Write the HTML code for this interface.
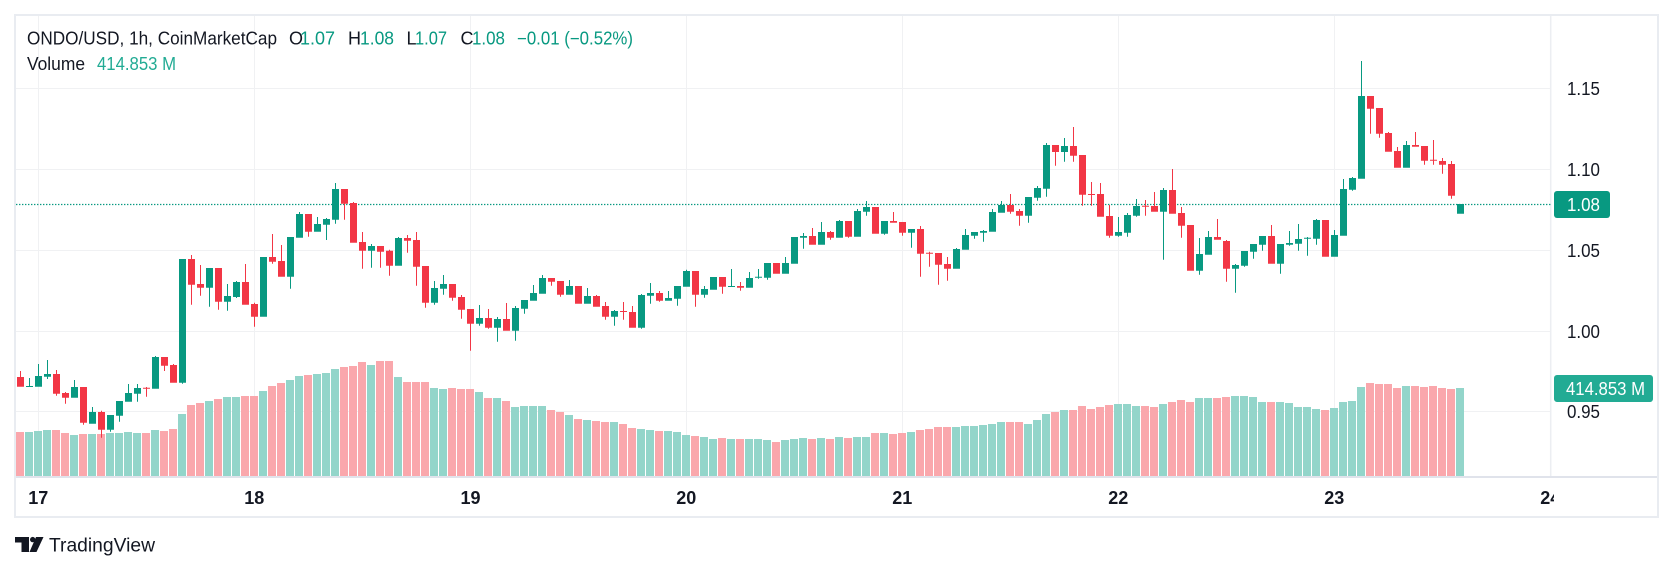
<!DOCTYPE html>
<html><head><meta charset="utf-8"><style>
html,body{margin:0;padding:0;background:#fff;}
svg{display:block;}
text{font-family:"Liberation Sans",Arial,sans-serif;}
</style></head><body>
<svg width="1674" height="571" viewBox="0 0 1674 571" xmlns="http://www.w3.org/2000/svg">
<defs><clipPath id="tc"><rect x="0" y="478" width="1554" height="38"/></clipPath></defs>
<rect width="1674" height="571" fill="#fff"/>
<!-- grid -->
<g stroke="#f0f1f3" stroke-width="1">
<path d="M16 88.5H1551M16 169.5H1551M16 250.5H1551M16 331.5H1551M16 411.5H1551"/>
<path d="M38.5 16V476M254.5 16V476M470.5 16V476M686.5 16V476M902.5 16V476M1118.5 16V476M1334.5 16V476"/>
</g>
<line x1="1550.7" y1="16" x2="1550.7" y2="476" stroke="#eceef2" stroke-width="1.5"/>
<rect x="16" y="476" width="1642" height="2" fill="#e0e3eb"/>
<rect x="15" y="15" width="1643" height="502" fill="none" stroke="#e9ecf1" stroke-width="2"/>
<!-- volume -->
<path fill="#93d5ca" d="M25 432h8V476h-8zM34 431h8V476h-8zM43 430h8V476h-8zM70 435h8V476h-8zM88 434h8V476h-8zM106 433h8V476h-8zM115 433h8V476h-8zM124 432h8V476h-8zM133 433h8V476h-8zM151 430h8V476h-8zM178 414h8V476h-8zM205 401h8V476h-8zM223 397h8V476h-8zM232 397h8V476h-8zM259 391h8V476h-8zM286 380h8V476h-8zM295 376h8V476h-8zM313 374h8V476h-8zM322 373h8V476h-8zM331 369h8V476h-8zM367 365h8V476h-8zM394 377h8V476h-8zM430 388h8V476h-8zM439 389h8V476h-8zM475 392h8V476h-8zM493 398h8V476h-8zM511 407h8V476h-8zM520 406h8V476h-8zM529 406h8V476h-8zM538 406h8V476h-8zM565 415h8V476h-8zM583 420h8V476h-8zM610 422h8V476h-8zM637 429h8V476h-8zM646 430h8V476h-8zM664 431h8V476h-8zM673 432h8V476h-8zM682 435h8V476h-8zM700 437h8V476h-8zM709 439h8V476h-8zM727 439h8V476h-8zM745 439h8V476h-8zM754 439h8V476h-8zM763 440h8V476h-8zM781 440h8V476h-8zM790 439h8V476h-8zM799 438h8V476h-8zM817 438h8V476h-8zM835 437h8V476h-8zM853 437h8V476h-8zM862 437h8V476h-8zM880 433h8V476h-8zM907 432h8V476h-8zM952 427h8V476h-8zM961 426h8V476h-8zM970 426h8V476h-8zM979 425h8V476h-8zM988 424h8V476h-8zM997 422h8V476h-8zM1024 424h8V476h-8zM1033 420h8V476h-8zM1042 414h8V476h-8zM1060 410h8V476h-8zM1114 404h8V476h-8zM1123 404h8V476h-8zM1132 406h8V476h-8zM1159 404h8V476h-8zM1195 398h8V476h-8zM1204 398h8V476h-8zM1231 396h8V476h-8zM1240 396h8V476h-8zM1249 397h8V476h-8zM1258 402h8V476h-8zM1276 402h8V476h-8zM1285 403h8V476h-8zM1294 407h8V476h-8zM1303 407h8V476h-8zM1312 409h8V476h-8zM1330 408h8V476h-8zM1339 402h8V476h-8zM1348 401h8V476h-8zM1357 387h8V476h-8zM1402 386h8V476h-8zM1456 388h8V476h-8z"/>
<path fill="#faa7ac" d="M16 432h8V476h-8zM52 430h8V476h-8zM61 433h8V476h-8zM79 434h8V476h-8zM97 434h8V476h-8zM142 433h8V476h-8zM160 431h8V476h-8zM169 429h8V476h-8zM187 405h8V476h-8zM196 403h8V476h-8zM214 399h8V476h-8zM241 396h8V476h-8zM250 396h8V476h-8zM268 386h8V476h-8zM277 383h8V476h-8zM304 375h8V476h-8zM340 367h8V476h-8zM349 366h8V476h-8zM358 362h8V476h-8zM376 361h8V476h-8zM385 361h8V476h-8zM403 382h8V476h-8zM412 382h8V476h-8zM421 382h8V476h-8zM448 388h8V476h-8zM457 389h8V476h-8zM466 389h8V476h-8zM484 398h8V476h-8zM502 401h8V476h-8zM547 410h8V476h-8zM556 412h8V476h-8zM574 419h8V476h-8zM592 421h8V476h-8zM601 422h8V476h-8zM619 424h8V476h-8zM628 428h8V476h-8zM655 431h8V476h-8zM691 436h8V476h-8zM718 438h8V476h-8zM736 439h8V476h-8zM772 442h8V476h-8zM808 439h8V476h-8zM826 439h8V476h-8zM844 438h8V476h-8zM871 433h8V476h-8zM889 434h8V476h-8zM898 433h8V476h-8zM916 430h8V476h-8zM925 429h8V476h-8zM934 427h8V476h-8zM943 427h8V476h-8zM1006 422h8V476h-8zM1015 422h8V476h-8zM1051 412h8V476h-8zM1069 410h8V476h-8zM1078 406h8V476h-8zM1087 409h8V476h-8zM1096 407h8V476h-8zM1105 405h8V476h-8zM1141 406h8V476h-8zM1150 407h8V476h-8zM1168 402h8V476h-8zM1177 400h8V476h-8zM1186 402h8V476h-8zM1213 398h8V476h-8zM1222 397h8V476h-8zM1267 402h8V476h-8zM1321 410h8V476h-8zM1366 383h8V476h-8zM1375 384h8V476h-8zM1384 384h8V476h-8zM1393 388h8V476h-8zM1411 386h8V476h-8zM1420 387h8V476h-8zM1429 386h8V476h-8zM1438 388h8V476h-8zM1447 389h8V476h-8z"/>
<!-- current price line -->
<line x1="16" y1="204.5" x2="1551" y2="204.5" stroke="#089981" stroke-width="1.2" stroke-dasharray="1.4 1.6"/>
<!-- candles green -->
<path fill="#089981" d="M29 378h1v9h-1zM26 386h7v1h-7zM38 364h1v22.7h-1zM35 376h7v10.7h-7zM47 360h1v19h-1zM44 374h7v2.7h-7zM74 380h1v17.7h-1zM71 387h7v10.7h-7zM92 407h1v16.7h-1zM89 412h7v11.7h-7zM110 415h1v16.7h-1zM107 415h7v14.7h-7zM119 401h1v20.7h-1zM116 401h7v14.7h-7zM128 384h1v17.7h-1zM125 393h7v8.7h-7zM137 384h1v17.7h-1zM134 388h7v5.7h-7zM155 356h1v32.7h-1zM152 357h7v31.7h-7zM182 259h1v124.7h-1zM179 259h7v123.7h-7zM209 268h1v38.7h-1zM206 268h7v19.7h-7zM227 284h1v26.7h-1zM224 296h7v5.7h-7zM236 281h1v17h-1zM233 282h7v15h-7zM263 257h1v59.7h-1zM260 257h7v59.7h-7zM290 237h1v51.7h-1zM287 237h7v39.7h-7zM299 212h1v25.7h-1zM296 214h7v23.7h-7zM317 217h1v14.7h-1zM314 224h7v7.7h-7zM326 218h1v22h-1zM323 219h7v5.7h-7zM335 183h1v40.7h-1zM332 189h7v30.7h-7zM371 244h1v23.7h-1zM368 246h7v4.7h-7zM398 237h1v28.7h-1zM395 238h7v27.7h-7zM434 281h1v23.7h-1zM431 288h7v14.7h-7zM443 275h1v19.7h-1zM440 284h7v4.7h-7zM479 305h1v20.7h-1zM476 318h7v5.7h-7zM497 317h1v24.7h-1zM494 319h7v8.7h-7zM515 306h1v34.7h-1zM512 308h7v22.7h-7zM524 300h1v13.7h-1zM521 300h7v8.7h-7zM533 285h1v15.7h-1zM530 293h7v7.7h-7zM542 275h1v18.7h-1zM539 278h7v15.7h-7zM569 280h1v14.7h-1zM566 286h7v8.7h-7zM587 288h1v15.7h-1zM584 296h7v7.7h-7zM614 310h1v15.7h-1zM611 311h7v5.7h-7zM641 294h1v34.7h-1zM638 295h7v32.7h-7zM650 283h1v20.7h-1zM647 293h7v2.7h-7zM668 291h1v9.7h-1zM665 298h7v2.7h-7zM677 286h1v19.7h-1zM674 286h7v12.7h-7zM686 269.7h1v17h-1zM683 271h7v15.7h-7zM704 286h1v11.7h-1zM701 289h7v5.7h-7zM713 277h1v12.7h-1zM710 277h7v12.7h-7zM731 269h1v17.7h-1zM728 286h7v1h-7zM749 272h1v15.7h-1zM746 278h7v9.7h-7zM758 269h1v9.7h-1zM755 276.7h7v1h-7zM767 263h1v16.7h-1zM764 263h7v14.7h-7zM785 257h1v16.7h-1zM782 263h7v10.7h-7zM794 237h1v26.7h-1zM791 237h7v26.7h-7zM803 233h1v15.7h-1zM800 236h7v1.7h-7zM821 222h1v22.7h-1zM818 232h7v12.7h-7zM839 220h1v17.7h-1zM836 221h7v16.7h-7zM857 209h1v27.7h-1zM854 211h7v25.7h-7zM866 201h1v14.7h-1zM863 207h7v4.7h-7zM884 221h1v13.7h-1zM881 221h7v12.7h-7zM911 229h1v18.7h-1zM908 229h7v3.7h-7zM956 248h1v20.7h-1zM953 249h7v19.7h-7zM965 229h1v20.7h-1zM962 235h7v14.7h-7zM974 232h1v6.7h-1zM971 232h7v3.7h-7zM983 230h1v11.7h-1zM980 231h7v1.7h-7zM992 209h1v22.7h-1zM989 212h7v19.7h-7zM1001 201h1v11.7h-1zM998 205h7v7.7h-7zM1028 197h1v25.7h-1zM1025 197h7v18.7h-7zM1037 186h1v14.7h-1zM1034 188h7v9.7h-7zM1046 143h1v53.7h-1zM1043 145h7v43.7h-7zM1064 138h1v23.7h-1zM1061 146h7v6h-7zM1118 217h1v19.7h-1zM1115 232h7v3.7h-7zM1127 213h1v23.7h-1zM1124 215h7v17.7h-7zM1136 199h1v17.7h-1zM1133 206h7v9.7h-7zM1163 188h1v71.7h-1zM1160 190h7v21.7h-7zM1199 238h1v36.7h-1zM1196 254h7v16.7h-7zM1208 231h1v23.7h-1zM1205 237h7v17.7h-7zM1235 264h1v28.7h-1zM1232 265h7v3.7h-7zM1244 251h1v15.7h-1zM1241 251h7v14.7h-7zM1253 244h1v14.7h-1zM1250 244h7v7.7h-7zM1262 236h1v14.7h-1zM1259 236h7v8.7h-7zM1280 244h1v29.7h-1zM1277 244h7v19.7h-7zM1289 231h1v14.7h-1zM1286 243h7v1.7h-7zM1298 224h1v26.7h-1zM1295 239h7v4.7h-7zM1307 237h1v18.7h-1zM1304 237.7h7v1h-7zM1316 219h1v25.7h-1zM1313 220h7v18.7h-7zM1334 230h1v26.7h-1zM1331 235h7v21.7h-7zM1343 179h1v56.7h-1zM1340 189h7v46.7h-7zM1352 177h1v13.7h-1zM1349 178h7v11.7h-7zM1361 61h1v117.7h-1zM1358 96h7v82.7h-7zM1406 141h1v26.7h-1zM1403 145h7v22.7h-7zM1460 204h1v9.7h-1zM1457 204h7v9.7h-7z"/>
<!-- candles red -->
<path fill="#f23645" d="M20 371h1v15.7h-1zM17 377h7v9.7h-7zM56 370h1v25.7h-1zM53 374h7v19.7h-7zM65 392h1v11.7h-1zM62 393h7v4.7h-7zM83 387h1v37.7h-1zM80 387h7v35.7h-7zM101 410.7h1v27h-1zM98 412h7v17.7h-7zM146 387h1v9.7h-1zM143 387.7h7v1h-7zM164 357h1v14h-1zM161 357h7v8.7h-7zM173 364h1v18.7h-1zM170 365h7v17.7h-7zM191 255h1v49.7h-1zM188 259h7v25.7h-7zM200 265h1v30.7h-1zM197 284h7v3.7h-7zM218 268h1v41.7h-1zM215 268h7v33.7h-7zM245 264h1v40.7h-1zM242 282h7v22.7h-7zM254 302.7h1v24h-1zM251 304h7v12.7h-7zM272 234h1v29.7h-1zM269 257h7v4.7h-7zM281 245h1v31.7h-1zM278 261h7v15.7h-7zM308 214h1v22.7h-1zM305 214h7v17.7h-7zM344 189h1v30.7h-1zM341 189h7v14.7h-7zM353 202h1v40.7h-1zM350 203h7v39.7h-7zM362 232h1v36.7h-1zM359 242h7v8.7h-7zM380 246h1v21.7h-1zM377 246h7v5.7h-7zM389 249.7h1v26h-1zM386 250.7h7v15h-7zM407 235h1v17.7h-1zM404 238h7v2.7h-7zM416 232h1v53.7h-1zM413 240h7v26.7h-7zM425 266h1v41.7h-1zM422 266h7v36.7h-7zM452 284h1v16.7h-1zM449 284h7v13.7h-7zM461 295h1v23.7h-1zM458 297h7v12.7h-7zM470 309h1v41.7h-1zM467 309h7v14.7h-7zM488 309h1v19.7h-1zM485 318h7v9.7h-7zM506 303h1v27.7h-1zM503 319h7v11.7h-7zM551 278h1v7.7h-1zM548 278h7v3.7h-7zM560 281h1v15.7h-1zM557 281h7v13.7h-7zM578 286h1v17.7h-1zM575 286h7v17.7h-7zM596 295h1v11.7h-1zM593 296h7v10.7h-7zM605 302h1v17.7h-1zM602 306h7v10.7h-7zM623 302h1v17.7h-1zM620 311h7v1h-7zM632 306h1v21.7h-1zM629 312h7v15.7h-7zM659 291h1v10.7h-1zM656 293h7v7.7h-7zM695 271h1v35.7h-1zM692 271h7v23.7h-7zM722 277h1v16.7h-1zM719 277h7v9.7h-7zM740 282h1v8.7h-1zM737 286h7v1.7h-7zM776 263h1v10.7h-1zM773 263h7v10.7h-7zM812 228h1v16.7h-1zM809 236h7v8.7h-7zM830 231h1v8.7h-1zM827 232h7v5.7h-7zM848 221h1v16.7h-1zM845 221h7v15.7h-7zM875 207h1v26.7h-1zM872 207h7v26.7h-7zM893 212h1v10.7h-1zM890 221h7v1.7h-7zM902 222h1v13.7h-1zM899 222h7v10.7h-7zM920 226h1v50.7h-1zM917 229h7v24.7h-7zM929 251.7h1v15h-1zM926 252.7h7v1h-7zM938 253h1v31.7h-1zM935 253h7v11.7h-7zM947 257h1v23.7h-1zM944 264h7v4.7h-7zM1010 194h1v19.7h-1zM1007 205h7v6.7h-7zM1019 209h1v16.7h-1zM1016 211h7v4.7h-7zM1055 145h1v20.7h-1zM1052 145h7v7h-7zM1073 127h1v34.7h-1zM1070 146h7v9.7h-7zM1082 155h1v50.7h-1zM1079 155h7v39.7h-7zM1091 182h1v23.7h-1zM1088 194h7v1h-7zM1100 183h1v33.7h-1zM1097 194h7v22.7h-7zM1109 205h1v32.7h-1zM1106 216h7v19.7h-7zM1145 200h1v15.7h-1zM1142 205.7h7v1h-7zM1154 192h1v19.7h-1zM1151 206h7v5.7h-7zM1172 169h1v44.7h-1zM1169 190h7v23.7h-7zM1181 207h1v30.7h-1zM1178 213h7v12.7h-7zM1190 225h1v45.7h-1zM1187 225h7v45.7h-7zM1217 219h1v20.7h-1zM1214 237h7v2.7h-7zM1226 240h1v41.7h-1zM1223 241h7v27.7h-7zM1271 225h1v38.7h-1zM1268 236h7v27.7h-7zM1325 220h1v36.7h-1zM1322 220h7v36.7h-7zM1370 96h1v37.7h-1zM1367 96h7v12.7h-7zM1379 108h1v29.7h-1zM1376 108h7v25.7h-7zM1388 132h1v19.7h-1zM1385 133h7v18.7h-7zM1397 147h1v20.7h-1zM1394 151h7v16.7h-7zM1415 132h1v14.7h-1zM1412 145h7v1.7h-7zM1424 146h1v18.7h-1zM1421 146h7v14.7h-7zM1433 140h1v24.7h-1zM1430 159.7h7v1h-7zM1442 158h1v15.7h-1zM1439 161h7v3.7h-7zM1451 161h1v37.7h-1zM1448 164h7v31.7h-7z"/>
<!-- header -->
<g font-size="18" fill="#131722">
<text x="27" y="44.3" textLength="250" lengthAdjust="spacingAndGlyphs">ONDO/USD, 1h, CoinMarketCap</text>
<text x="289" y="44.3">O</text>
<text x="300" y="44.3" fill="#089981" textLength="35" lengthAdjust="spacingAndGlyphs">1.07</text>
<text x="348" y="44.3">H</text>
<text x="360" y="44.3" fill="#089981" textLength="34" lengthAdjust="spacingAndGlyphs">1.08</text>
<text x="406.5" y="44.3">L</text>
<text x="415" y="44.3" fill="#089981" textLength="32" lengthAdjust="spacingAndGlyphs">1.07</text>
<text x="460.5" y="44.3">C</text>
<text x="472" y="44.3" fill="#089981" textLength="33" lengthAdjust="spacingAndGlyphs">1.08</text>
<text x="517" y="44.3" fill="#089981" textLength="116" lengthAdjust="spacingAndGlyphs">−0.01 (−0.52%)</text>
<text x="27" y="70" textLength="58" lengthAdjust="spacingAndGlyphs">Volume</text>
<text x="97" y="70" fill="#22ab94" textLength="79" lengthAdjust="spacingAndGlyphs">414.853 M</text>
</g>
<!-- price axis -->
<g font-size="18" fill="#131722">
<text x="1567" y="94.8" textLength="33" lengthAdjust="spacingAndGlyphs">1.15</text>
<text x="1567" y="175.8" textLength="33" lengthAdjust="spacingAndGlyphs">1.10</text>
<text x="1567" y="256.8" textLength="33" lengthAdjust="spacingAndGlyphs">1.05</text>
<text x="1567" y="337.8" textLength="33" lengthAdjust="spacingAndGlyphs">1.00</text>
<text x="1567" y="418" textLength="33" lengthAdjust="spacingAndGlyphs">0.95</text>
</g>
<rect x="1554" y="191" width="56" height="27" rx="3" fill="#089981"/>
<text x="1567" y="210.8" font-size="18" fill="#fff" textLength="33" lengthAdjust="spacingAndGlyphs">1.08</text>
<rect x="1554" y="375" width="99" height="27" rx="3" fill="#22ab94"/>
<text x="1566" y="394.8" font-size="18" fill="#fff" textLength="79" lengthAdjust="spacingAndGlyphs">414.853 M</text>
<!-- time axis -->
<g font-size="18" font-weight="bold" fill="#131722" text-anchor="middle" clip-path="url(#tc)">
<text x="38.3" y="504">17</text>
<text x="254.3" y="504">18</text>
<text x="470.5" y="504">19</text>
<text x="686.3" y="504">20</text>
<text x="902.3" y="504">21</text>
<text x="1118.3" y="504">22</text>
<text x="1334.3" y="504">23</text>
<text x="1550.3" y="504">24</text>
</g>
<!-- logo -->
<g fill="#131722">
<path d="M15 537H29V552H21.5V542.5H15Z"/>
<circle cx="32.7" cy="539.6" r="2.7"/>
<path d="M36 537H43.5L36.5 552H29.5Z"/>
<text x="49" y="551.5" font-size="19" textLength="106" lengthAdjust="spacingAndGlyphs">TradingView</text>
</g>
</svg>
</body></html>
